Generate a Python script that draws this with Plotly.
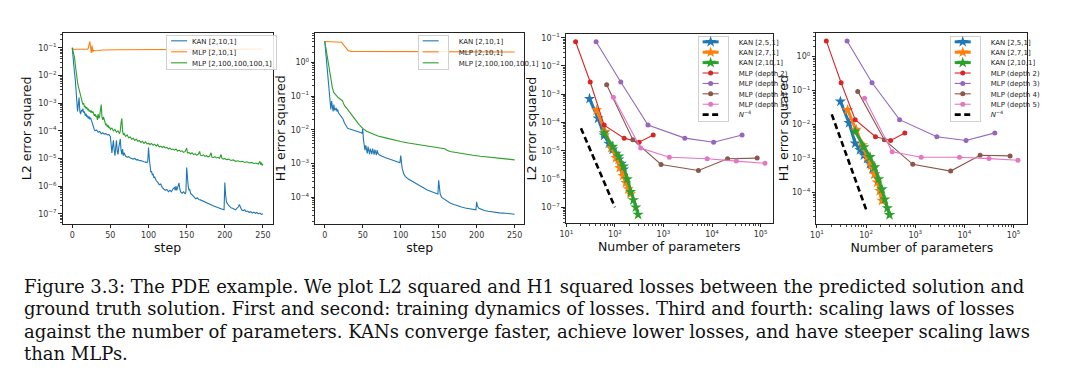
import plotly.graph_objects as go

# ---------------- data ----------------
# Panel 1: L2 error squared vs training step  (step, value)
kan_l2_train = [(0,1.0e-1),(1,4.0e-2),(2,1.8e-2),(3,1.26e-2),(4,7.1e-3),(5,2.5e-3),(6,7.9e-4),(7,5.0e-4),(8,8.9e-4),(9,1.6e-3),
    (10,5.0e-4),(11,4.0e-4),(12,5.6e-4),(13,5.0e-4),(14,6.3e-4),(15,4.5e-4),(16,5.0e-4),(17,3.5e-4),(18,4.2e-4),(19,3.2e-4),
    (20,3.5e-4),(21,2.8e-4),(22,3.3e-4),(23,2.6e-4),(24,3.0e-4),(25,2.4e-4),(26,1.8e-4),(27,1.4e-4),(28,1.26e-4),(29,1.12e-4),
    (30,1.0e-4),(32,1.07e-4),(34,8.9e-5),(36,9.5e-5),(38,7.9e-5),(40,8.5e-5),(42,7.6e-5),(44,7.9e-5),(46,7.1e-5),(48,7.4e-5),
    (50,6.3e-5),(51,3.5e-5),(52,1.6e-5),(53,2.8e-5),(54,4.5e-5),(55,2.0e-5),(56,1.26e-5),(57,2.5e-5),(58,4.5e-5),(59,1.8e-5),
    (60,1.4e-5),(61,2.5e-5),(62,4.0e-5),(63,5.0e-5),(64,2.0e-5),(65,1.4e-5),(66,2.2e-5),(67,1.26e-5),(68,1.6e-5),(70,1.2e-5),
    (72,1.12e-5),(74,1.17e-5),(76,1.05e-5),(78,1.0e-5),(80,9.5e-6),(82,1.0e-5),(84,8.9e-6),(86,9.1e-6),(88,8.3e-6),(90,8.5e-6),
    (92,7.9e-6),(94,7.6e-6),(96,7.4e-6),(98,7.1e-6),(99,7.9e-6),(100,2.5e-5),(101,1.0e-5),(102,5.0e-6),(103,3.2e-6),(104,3.5e-6),
    (105,2.5e-6),(106,2.8e-6),(107,2.0e-6),(108,2.2e-6),(110,1.6e-6),(112,1.4e-6),(114,1.12e-6),(116,1.2e-6),(118,8.9e-7),
    (120,7.9e-7),(122,7.1e-7),(124,7.6e-7),(126,6.3e-7),(128,7.1e-7),(130,6.3e-7),(132,7.9e-7),(134,8.9e-7),(135,7.1e-7),
    (136,1.0e-6),(137,7.1e-7),(138,8.9e-7),(139,1.12e-6),(140,1.3e-6),(141,7.9e-7),(142,6.3e-7),(144,5.6e-7),(146,6.3e-7),
    (148,5.2e-7),(149,6.3e-7),(150,4.7e-6),(151,1.6e-6),(152,1.0e-6),(153,7.1e-7),(154,7.9e-7),(155,5.6e-7),(157,5.0e-7),
    (159,4.5e-7),(160,4.0e-7),(162,3.5e-7),(164,3.8e-7),(166,3.3e-7),(168,3.2e-7),(170,3.0e-7),(172,2.8e-7),(175,2.5e-7),
    (178,2.3e-7),(181,2.1e-7),(184,2.0e-7),(187,1.86e-7),(190,1.7e-7),(193,1.6e-7),(196,1.5e-7),(199,1.4e-7),(200,1.35e-6),
    (201,5.0e-7),(202,2.8e-7),(204,2.2e-7),(206,1.9e-7),(208,1.66e-7),(210,1.6e-7),(212,1.5e-7),(214,1.4e-7),(216,1.6e-7),
    (218,1.8e-7),(219,2.2e-7),(220,1.9e-7),(221,1.66e-7),(222,1.4e-7),(224,1.3e-7),(226,1.4e-7),(228,1.2e-7),(230,1.26e-7),
    (232,1.12e-7),(234,1.2e-7),(236,1.07e-7),(238,1.15e-7),(240,1.05e-7),(242,1.12e-7),(244,1.0e-7),(246,1.07e-7),
    (248,9.5e-8),(250,1.0e-7)]

mlp_small_l2_train = [(0,1.0e-1),(2,8.7e-2),(5,8.9e-2),(10,8.7e-2),(15,8.8e-2),(20,8.9e-2),(21,9.5e-2),(22,1.3e-1),
    (23,1.7e-1),(24,1.1e-1),(25,6.5e-2),(26,1.2e-1),(27,7.0e-2),(28,8.2e-2),(30,7.8e-2),(35,8.0e-2),(40,8.3e-2),
    (60,8.5e-2),(100,8.7e-2),(150,8.8e-2),(200,8.9e-2),(250,9.0e-2)]

mlp_big_l2_train = [(0,1.0e-1),(1,7.9e-2),(2,6.3e-2),(3,4.5e-2),(4,2.5e-2),(5,1.26e-2),(6,7.9e-3),(7,5.6e-3),(8,4.0e-3),
    (9,3.2e-3),(10,2.5e-3),(11,2.0e-3),(12,1.4e-3),(13,1.12e-3),(14,8.9e-4),(15,1.0e-3),(16,7.1e-4),(17,7.9e-4),(18,6.3e-4),
    (19,7.1e-4),(20,5.6e-4),(21,6.3e-4),(22,5.0e-4),(23,5.6e-4),(24,4.8e-4),(25,5.2e-4),(26,4.5e-4),(27,5.0e-4),(28,4.0e-4),
    (29,3.5e-4),(30,4.0e-4),(31,3.2e-4),(32,3.5e-4),(33,2.5e-4),(34,4.0e-4),(35,2.8e-4),(36,3.5e-4),(37,5.0e-4),(38,8.9e-4),
    (39,3.2e-4),(40,2.5e-4),(41,3.2e-4),(42,2.2e-4),(43,2.0e-4),(44,1.6e-4),(45,1.8e-4),(46,1.4e-4),(47,1.6e-4),(48,1.26e-4),
    (49,1.4e-4),(50,1.12e-4),(52,1.26e-4),(54,1.0e-4),(56,1.12e-4),(58,8.9e-5),(60,1.0e-4),(62,7.9e-5),(63,1.0e-4),(64,2.0e-4),
    (65,2.8e-4),(66,1.0e-4),(67,7.1e-5),(68,7.9e-5),(70,6.3e-5),(72,7.1e-5),(74,5.6e-5),(76,6.0e-5),(78,5.0e-5),(80,5.4e-5),
    (82,4.5e-5),(84,5.0e-5),(86,4.2e-5),(88,4.5e-5),(90,3.8e-5),(92,4.2e-5),(94,3.5e-5),(96,4.0e-5),(98,3.4e-5),(100,3.5e-5),
    (102,3.2e-5),(104,3.5e-5),(106,3.0e-5),(108,3.3e-5),(110,2.8e-5),(112,3.2e-5),(114,2.6e-5),(116,2.8e-5),(118,2.5e-5),
    (120,2.7e-5),(122,2.4e-5),(124,2.5e-5),(126,2.2e-5),(128,2.4e-5),(130,2.1e-5),(132,2.2e-5),(134,2.0e-5),(136,2.2e-5),
    (138,1.86e-5),(140,2.0e-5),(142,1.8e-5),(144,1.9e-5),(146,1.66e-5),(148,1.8e-5),(150,2.4e-5),(151,1.6e-5),(153,1.66e-5),
    (155,1.45e-5),(157,1.6e-5),(159,1.38e-5),(161,1.48e-5),(163,1.32e-5),(165,1.4e-5),(167,1.8e-5),(168,1.32e-5),(170,1.26e-5),
    (172,1.35e-5),(174,1.2e-5),(176,1.26e-5),(178,1.15e-5),(180,1.2e-5),(182,1.6e-5),(183,1.12e-5),(185,1.07e-5),(187,1.17e-5),
    (189,1.05e-5),(191,1.1e-5),(193,1.0e-5),(195,1.4e-5),(196,1.05e-5),(198,9.5e-6),(200,1.0e-5),(202,9.1e-6),(205,9.5e-6),
    (208,8.5e-6),(211,8.9e-6),(214,7.9e-6),(217,8.3e-6),(220,7.6e-6),(223,7.9e-6),(226,7.2e-6),(229,7.6e-6),(232,6.9e-6),
    (235,7.2e-6),(238,6.6e-6),(241,6.9e-6),(244,6.3e-6),(246,7.9e-6),(247,6.0e-6),(248,7.1e-6),(249,5.6e-6),(250,6.3e-6)]

# Panel 2: H1 error squared vs training step
kan_h1_train = [(0,4.2),(1,2.2),(2,1.2),(3,0.56),(4,0.32),(5,0.178),(6,0.1),(7,0.056),(8,0.04),(9,0.071),(10,0.045),
    (11,0.035),(12,0.056),(13,0.038),(14,0.04),(15,0.045),(16,0.035),(17,0.04),(18,0.032),(19,0.03),(20,0.028),(22,0.025),
    (24,0.021),(26,0.016),(28,0.0126),(30,0.0112),(32,0.0107),(35,0.0102),(38,0.01),(41,0.0095),(44,0.0089),(47,0.0083),
    (49,0.0079),(50,0.0107),(51,0.005),(52,0.0035),(53,0.0025),(54,0.0035),(55,0.0022),(56,0.002),(57,0.0032),(58,0.0021),
    (59,0.0019),(60,0.0028),(61,0.0021),(62,0.0019),(63,0.0028),(64,0.002),(65,0.00186),(66,0.0026),(67,0.002),(68,0.0018),
    (69,0.0025),(70,0.002),(72,0.0018),(75,0.00166),(80,0.0015),(85,0.00138),(90,0.00126),(95,0.00115),(99,0.00107),
    (100,0.00174),(101,0.00112),(102,7.1e-4),(104,5.0e-4),(106,4.2e-4),(110,3.5e-4),(115,3.0e-4),(120,2.5e-4),(125,2.2e-4),
    (130,1.9e-4),(135,1.66e-4),(140,1.5e-4),(145,1.38e-4),(149,1.26e-4),(150,3.2e-4),(151,1.8e-4),(152,1.26e-4),(154,1.0e-4),
    (157,8.9e-5),(160,7.9e-5),(165,6.9e-5),(170,6.2e-5),(175,5.6e-5),(180,5.2e-5),(185,4.9e-5),(190,4.7e-5),(195,4.5e-5),
    (199,4.3e-5),(200,7.4e-5),(201,5.6e-5),(203,4.8e-5),(206,4.4e-5),(210,4.1e-5),(215,3.9e-5),(220,3.7e-5),(225,3.6e-5),
    (230,3.5e-5),(235,3.45e-5),(240,3.4e-5),(245,3.3e-5),(250,3.2e-5)]

mlp_small_h1_train = [(0,4.1),(10,4.0),(20,4.0),(22,3.9),(25,3.2),(28,2.6),(31,2.2),(35,2.1),(50,2.1),(100,2.05),
    (150,2.02),(200,2.0),(250,2.0)]

mlp_big_h1_train = [(0,4.2),(2,2.2),(4,1.0),(6,0.5),(8,0.28),(10,0.178),(12,0.126),(15,0.102),(18,0.089),(21,0.079),
    (23,0.074),(24,0.066),(26,0.052),(29,0.043),(33,0.032),(37,0.025),(41,0.019),(45,0.0145),(50,0.011),(55,0.0091),
    (60,0.0081),(65,0.0074),(67,0.0071),(70,0.0066),(80,0.0058),(90,0.005),(100,0.0045),(110,0.0041),(120,0.0038),
    (130,0.0035),(140,0.0032),(150,0.0030),(155,0.0028),(158,0.00275),(161,0.0025),(165,0.0023),(175,0.0021),(185,0.0019),
    (195,0.00178),(205,0.00166),(215,0.00155),(225,0.00148),(235,0.00141),(250,0.00129)]

# Panels 3 & 4: scaling laws (number of parameters)
kan5_n = [30, 45, 60, 75, 90, 105, 120, 135, 150]
kan7_n = [42, 63, 84, 105, 126, 147, 168, 189, 210]
kan10_n = [60, 90, 120, 150, 180, 210, 240, 270, 300]
kan5_l2 = [6.9e-4, 1.4e-4, 3.5e-5, 1.8e-5, 1.12e-5, 7.9e-6, 5.0e-6, 3.5e-6, 2.2e-6]
kan7_l2 = [2.75e-4, 4.8e-5, 1.26e-5, 5.6e-6, 2.5e-6, 1.3e-6, 7.4e-7, 4.4e-7, 2.95e-7]
kan10_l2 = [4.2e-5, 1.4e-5, 6.3e-6, 2.8e-6, 1.0e-6, 3.5e-7, 1.8e-7, 1.0e-7, 5.5e-8]
kan5_h1 = [4.8e-2, 1.12e-2, 2.8e-3, 1.8e-3, 1.26e-3, 1.0e-3, 7.1e-4, 5.0e-4, 3.5e-4]
kan7_h1 = [2.7e-2, 7.1e-3, 2.5e-3, 1.12e-3, 6.3e-4, 3.5e-4, 2.0e-4, 1.12e-4, 5.8e-5]
kan10_h1 = [6.3e-3, 2.2e-3, 1.12e-3, 5.6e-4, 2.5e-4, 1.26e-4, 6.3e-5, 3.5e-5, 2.2e-5]

mlp_d2_n = [15.5, 31, 60, 155, 315, 615]
mlp_d3_n = [41, 132, 480, 2750, 10800, 41600]
mlp_d4_n = [67.6, 234, 891, 5250, 20900, 85100]
mlp_d5_n = [93, 339, 1320, 7940, 31600, 123000]
mlp_d2_l2 = [7.2e-2, 2.7e-3, 8.1e-5, 2.8e-5, 2.0e-5, 3.6e-5]
mlp_d3_l2 = [7.2e-2, 2.7e-3, 8.1e-5, 2.8e-5, 2.0e-5, 3.6e-5]
mlp_d4_l2 = [2.15e-3, 2.45e-5, 3.26e-6, 2.0e-6, 5.2e-6, 5.5e-6]
mlp_d5_l2 = [7.9e-4, 1.26e-5, 5.9e-6, 5.2e-6, 4.3e-6, 3.6e-6]
mlp_d2_h1 = [2.9, 0.17, 1.4e-2, 4.4e-3, 3.4e-3, 5.7e-3]
mlp_d3_h1 = [2.9, 0.17, 1.4e-2, 4.4e-3, 3.4e-3, 5.7e-3]
mlp_d4_h1 = [9.5e-2, 3.6e-3, 6.8e-4, 4.3e-4, 1.25e-3, 1.2e-3]
mlp_d5_h1 = [6.0e-2, 1.6e-3, 1.1e-3, 1.1e-3, 1.0e-3, 8.9e-4]

ref_n = [20, 100]
ref_l2 = [6.3e-5, 1.0e-7]
ref_h1 = [2.0e-2, 3.2e-5]

caption_lines = [
    "Figure 3.3: The PDE example. We plot L2 squared and H1 squared losses between the predicted solution and",
    "ground truth solution. First and second: training dynamics of losses. Third and fourth: scaling laws of losses",
    "against the number of parameters. KANs converge faster, achieve lower losses, and have steeper scaling laws",
    "than MLPs.",
]

# ---------------- styling ----------------
BLUE, ORANGE, GREEN = "#1f77b4", "#ff7f0e", "#2ca02c"
RED, PURPLE, BROWN, PINK = "#d62728", "#9467bd", "#8c564b", "#e377c2"
W, H = 1080, 378
FONT = "DejaVu Sans"


def sup(e):
    return "10<sup>" + (str(e) if e >= 0 else "\u2212" + str(-e)) + "</sup>"


fig = go.Figure()


def unzip(pairs):
    return [p[0] for p in pairs], [p[1] for p in pairs]


# panel 1
for pairs, name, col in [(kan_l2_train, "KAN [2,10,1]", BLUE),
                         (mlp_small_l2_train, "MLP [2,10,1]", ORANGE),
                         (mlp_big_l2_train, "MLP [2,100,100,100,1]", GREEN)]:
    x, y = unzip(pairs)
    fig.add_trace(go.Scatter(x=x, y=y, mode="lines", name=name, line=dict(color=col, width=1.1),
                             xaxis="x", yaxis="y", legend="legend"))
# panel 2
for pairs, name, col in [(kan_h1_train, "KAN [2,10,1]", BLUE),
                         (mlp_small_h1_train, "MLP [2,10,1]", ORANGE),
                         (mlp_big_h1_train, "MLP [2,100,100,100,1]", GREEN)]:
    x, y = unzip(pairs)
    fig.add_trace(go.Scatter(x=x, y=y, mode="lines", name=name, line=dict(color=col, width=1.1),
                             xaxis="x2", yaxis="y2", legend="legend2"))

# panels 3 and 4
for (ax, ay, leg, kl, ml, rl) in [
        ("x3", "y3", "legend3", [kan5_l2, kan7_l2, kan10_l2], [mlp_d2_l2, mlp_d3_l2, mlp_d4_l2, mlp_d5_l2], ref_l2),
        ("x4", "y4", "legend4", [kan5_h1, kan7_h1, kan10_h1], [mlp_d2_h1, mlp_d3_h1, mlp_d4_h1, mlp_d5_h1], ref_h1)]:
    for n, v, name, col in zip([kan5_n, kan7_n, kan10_n], kl,
                               ["KAN [2,5,1]", "KAN [2,7,1]", "KAN [2,10,1]"], [BLUE, ORANGE, GREEN]):
        fig.add_trace(go.Scatter(x=n, y=v, mode="lines+markers", name=name,
                                 line=dict(color=col, width=3),
                                 marker=dict(symbol="star", size=8.5, color=col, line=dict(width=0)),
                                 xaxis=ax, yaxis=ay, legend=leg))
    for n, v, name, col in zip([mlp_d2_n, mlp_d3_n, mlp_d4_n, mlp_d5_n], ml,
                               ["MLP (depth 2)", "MLP (depth 3)", "MLP (depth 4)", "MLP (depth 5)"],
                               [RED, PURPLE, BROWN, PINK]):
        fig.add_trace(go.Scatter(x=n, y=v, mode="lines+markers", name=name,
                                 line=dict(color=col, width=1.1),
                                 marker=dict(symbol="circle", size=5, color=col),
                                 xaxis=ax, yaxis=ay, legend=leg))
    fig.add_trace(go.Scatter(x=ref_n, y=rl, mode="lines", name="<i>N</i><sup>\u22124</sup>",
                             line=dict(color="black", width=2.6, dash="6px,3.5px"),
                             xaxis=ax, yaxis=ay, legend=leg))


def px_x(a, b):
    return [a / W, b / W]


def px_y(top, bottom):
    return [1 - bottom / H, 1 - top / H]


tickfont = dict(family=FONT, size=8, color="#333")
titlefont = dict(family=FONT, size=12.5, color="#111")
common = dict(showline=True, mirror=True, linecolor="#222", linewidth=1, showgrid=False, zeroline=False,
              ticks="outside", ticklen=3.5, tickwidth=0.8, tickcolor="#222", tickfont=tickfont)
minor_log = dict(ticks="outside", ticklen=2, tickwidth=0.6, tickcolor="#444", dtick="D1", showgrid=False)


def log_axis(lo, hi, exps, title, dom, anchor, standoff):
    return dict(type="log", range=[lo, hi], domain=dom, anchor=anchor,
                tickmode="array", tickvals=[10.0 ** e for e in exps], ticktext=[sup(e) for e in exps],
                minor=minor_log, title=dict(text=title, font=titlefont, standoff=standoff), **common)


def step_axis(dom, anchor):
    return dict(type="linear", range=[-12.5, 262.5], domain=dom, anchor=anchor,
                tickmode="array", tickvals=[0, 50, 100, 150, 200, 250],
                title=dict(text="step", font=titlefont, standoff=0), **common)


y12 = px_y(31, 223)
fig.update_layout(
    width=W, height=H, margin=dict(l=0, r=0, t=0, b=0), autosize=False,
    paper_bgcolor="white", plot_bgcolor="white", font=dict(family=FONT, size=8, color="#222"),
    xaxis=step_axis(px_x(57, 268), "y"),
    yaxis=log_axis(-7.36, -0.46, [-7, -6, -5, -4, -3, -2, -1], "L2 error squared", y12, "x", 3),
    xaxis2=step_axis(px_x(311, 521), "y2"),
    yaxis2=log_axis(-4.78, 0.87, [-4, -3, -2, -1, 0], "H1 error squared", y12, "x2", 2),
    xaxis3=log_axis(0.99, 5.25, [1, 2, 3, 4, 5], "Number of parameters", px_x(563, 771), "y3", 0),
    yaxis3=log_axis(-7.55, -0.88, [-7, -6, -5, -4, -3, -2, -1], "L2 error squared", px_y(32.5, 222), "x3", 1),
    xaxis4=log_axis(0.99, 5.28, [1, 2, 3, 4, 5], "Number of parameters", px_x(815, 1027), "y4", 0),
    yaxis4=log_axis(-4.91, 0.70, [-4, -3, -2, -1, 0], "H1 error squared", px_y(31, 222.7), "x4", 0),
)

legend_common = dict(xanchor="left", yanchor="top", bgcolor="rgba(255,255,255,0.85)", bordercolor="#d0d0d0",
                     borderwidth=1, font=dict(family=FONT, size=7, color="#222"), tracegroupgap=0)
fig.update_layout(
    legend=dict(x=161 / W, y=1 - 33 / H, **legend_common),
    legend2=dict(x=414 / W, y=1 - 33 / H, **legend_common),
    legend3=dict(x=695.5 / W, y=1 - 34 / H, **legend_common),
    legend4=dict(x=949 / W, y=1 - 34 / H, **legend_common),
)

# caption
cap_y = [286, 308.5, 331, 353.5]
for txt, yy in zip(caption_lines, cap_y):
    fig.add_annotation(text=txt, xref="paper", yref="paper", x=17 / W, y=1 - yy / H, xanchor="left",
                       yanchor="middle", showarrow=False, borderpad=0,
                       font=dict(family="DejaVu Serif", size=18, color="#111"))

post = r"""
document.body.style.margin = '0';
var gd = document.getElementById('{plot_id}');
function compact(){
  var layers = gd.querySelectorAll('.infolayer > g');
  layers.forEach(function(lg){
    var cls = lg.getAttribute('class') || '';
    if (cls.indexOf('legend') !== 0) return;
    var items = lg.querySelectorAll('g.traces');
    if (!items.length) return;
    var step = (items.length > 4) ? 10.4 : 11;
    var maxw = 0;
    items.forEach(function(it, i){
      var m = /translate\(([-\d.]+)[ ,]+([-\d.]+)\)/.exec(it.getAttribute('transform') || '');
      var tx = m ? m[1] : 0;
      it.setAttribute('transform', 'translate(' + tx + ',' + (6 + i * step) + ')');
      it.querySelectorAll('path.js-line').forEach(function(p){ p.setAttribute('d', 'M4,0h16'); });
      it.querySelectorAll('path.scatterpts').forEach(function(p){ p.setAttribute('transform', 'translate(12,0)'); });
      var t = it.querySelector('text.legendtext');
      if (t) {
        t.setAttribute('x', 25);
        t.querySelectorAll('tspan[x]').forEach(function(s){ s.setAttribute('x', 25); });
        maxw = Math.max(maxw, t.getBBox().width);
      }
    });
    lg.querySelectorAll('[clip-path]').forEach(function(e){ e.removeAttribute('clip-path'); });
    var bg = lg.querySelector('rect.bg');
    if (bg) {
      bg.setAttribute('width', maxw + 30);
      bg.setAttribute('height', 12 + (items.length - 1) * step);
    }
  });
}
compact();
gd.on('plotly_afterplot', compact);
"""

fig.write_html("out.html", post_script=post, config={"displayModeBar": False})
